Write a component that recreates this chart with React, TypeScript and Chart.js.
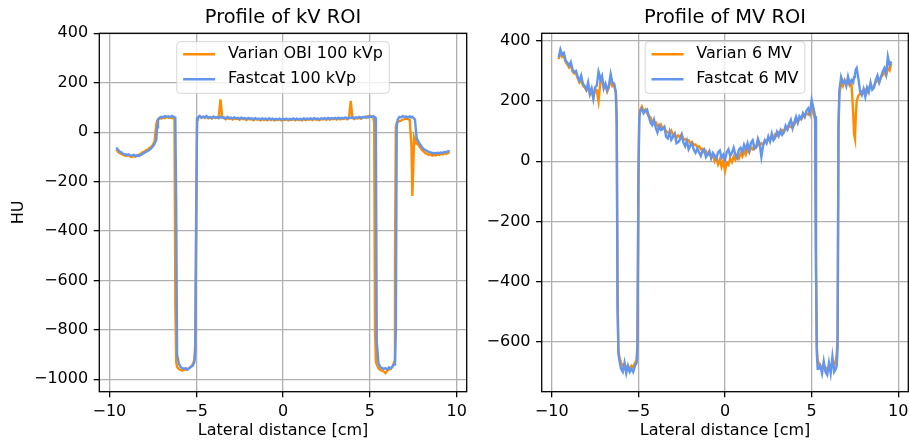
import React, { useEffect, useRef } from 'react';
import { Chart, registerables } from 'chart.js';
Chart.register(...registerables);

const FONT = '"DejaVu Sans", sans-serif';

// Lateral positions (cm), shared by both panels (denser near the edges)
const X_CM = [
  -9.6,-9.5,-9.4,-9.3,-9.2,-9.1,-9.0,-8.9,-8.8,-8.7,
  -8.6,-8.5,-8.4,-8.3,-8.2,-8.1,-8.0,-7.9,-7.8,-7.7,
  -7.6,-7.5,-7.4,-7.3,-7.25,-7.2,-7.1,-7.0,-6.9,-6.8,-6.7,
  -6.6,-6.5,-6.4,-6.3,-6.25,-6.2,-6.15,-6.1,-6.0,-5.9,-5.8,-5.7,
  -5.6,-5.5,-5.4,-5.3,-5.2,-5.1,-5.05,-5.0,-4.95,-4.9,-4.8,-4.7,
  -4.6,-4.5,-4.4,-4.3,-4.2,-4.1,-4.0,-3.9,-3.8,-3.7,
  -3.6,-3.5,-3.4,-3.3,-3.2,-3.1,-3.0,-2.9,-2.8,-2.7,
  -2.6,-2.5,-2.4,-2.3,-2.2,-2.1,-2.0,-1.9,-1.8,-1.7,
  -1.6,-1.5,-1.4,-1.3,-1.2,-1.1,-1.0,-0.9,-0.8,-0.7,
  -0.6,-0.5,-0.4,-0.3,-0.2,-0.1,0.0,0.1,0.2,0.3,
  0.4,0.5,0.6,0.7,0.8,0.9,1.0,1.1,1.2,1.3,
  1.4,1.5,1.6,1.7,1.8,1.9,2.0,2.1,2.2,2.3,
  2.4,2.5,2.6,2.7,2.8,2.9,3.0,3.1,3.2,3.3,
  3.4,3.5,3.6,3.7,3.8,3.9,4.0,4.1,4.2,4.3,
  4.4,4.5,4.6,4.7,4.8,4.9,5.0,5.1,5.2,5.25,5.3,5.35,
  5.4,5.5,5.6,5.7,5.8,5.9,6.0,6.1,6.2,6.3,
  6.4,6.45,6.5,6.55,6.6,6.7,6.8,6.9,7.0,7.1,7.2,7.3,
  7.4,7.45,7.5,7.55,7.6,7.7,7.8,7.9,8.0,8.1,8.2,8.3,
  8.4,8.5,8.6,8.7,8.8,8.9,9.0,9.1,9.2,9.3,
  9.4,9.5,9.6,
];

// kV ROI profiles (HU)
const KV_VARIAN = [
  -70,-80,-85,-88,-92,-95,-96,-94,-98,-100,
  -96,-99,-95,-92,-88,-82,-80,-74,-72,-64,
  -60,-52,-38,30,45,52,58,55,60,57,62,
  58,60,56,58,55,-700,-930,-950,-958,-962,-965,-960,
  -962,-958,-955,-950,-940,-920,-850,-300,50,58,64,60,
  62,57,63,56,60,55,61,57,59,62,
  133,60,56,52,58,54,57,51,56,53,
  55,50,56,52,54,49,55,51,53,48,
  54,50,52,48,53,49,52,48,53,49,
  52,48,51,49,52,48,51,49,52,48,
  51,49,53,48,52,49,51,48,53,49,
  52,50,53,49,54,50,52,49,53,51,
  54,50,55,51,54,52,55,51,56,52,
  55,53,57,52,56,127,58,53,57,55,
  59,54,60,62,58,64,66,62,62,40,-800,-930,
  -940,-955,-962,-965,-968,-975,-965,-960,-958,-950,
  -930,-500,20,38,42,45,47,50,54,55,53,50,
  -60,-258,-150,-20,-30,-45,-52,-62,-72,-78,-85,-88,
  -92,-90,-95,-92,-94,-90,-92,-88,-90,-86,
  -88,-84,-82,
];
const KV_FASTCAT = [
  -62,-72,-78,-82,-88,-90,-92,-90,-94,-95,
  -92,-96,-94,-97,-92,-88,-84,-80,-76,-72,
  -66,-58,-48,-32,20,50,58,62,60,65,62,
  64,60,66,62,60,58,-300,-900,-935,-950,-955,-958,
  -955,-960,-955,-948,-945,-930,-880,-400,55,60,66,58,
  63,60,65,58,62,57,63,59,61,56,
  62,58,60,55,61,57,59,55,60,56,
  58,54,59,55,57,53,58,54,56,52,
  57,53,55,51,56,53,55,51,56,52,
  55,51,54,52,55,51,54,52,55,51,
  54,52,56,51,55,52,54,51,56,52,
  55,53,56,52,57,53,55,52,56,54,
  57,53,58,54,57,55,58,54,59,55,
  58,56,60,55,59,57,61,56,60,58,
  62,57,61,59,63,60,64,61,65,62,60,30,
  -850,-935,-950,-955,-958,-955,-960,-952,-955,-948,
  -940,-930,-800,20,50,62,60,65,62,63,60,64,
  60,62,58,55,50,-25,-38,-50,-60,-68,-72,-76,
  -80,-82,-85,-84,-86,-83,-85,-82,-84,-80,
  -81,-78,-76,
];

// MV ROI profiles (HU)
const MV_VARIAN = [
  340,362,348,352,330,322,312,320,298,292,
  292,276,262,270,252,246,236,250,222,238,
  212,240,236,200,230,260,272,246,252,232,246,
  275,250,255,225,150,-450,-630,-650,-670,-680,-675,-685,
  -680,-690,-680,-685,-670,-660,-600,-100,150,170,182,165,
  172,160,150,146,132,128,130,118,112,122,
  108,112,100,96,92,102,88,90,78,86,
  80,90,72,74,68,70,60,64,54,56,
  48,50,40,42,30,34,22,28,14,22,
  0,12,-10,6,-18,2,-32,-5,-12,10,
  -2,16,5,20,10,26,16,34,22,40,
  30,46,40,52,46,58,52,60,56,68,
  64,76,70,84,80,90,86,96,92,104,
  100,110,106,118,114,126,122,134,130,142,
  140,150,148,160,156,168,180,160,140,-300,-620,-660,
  -670,-680,-690,-680,-685,-695,-680,-690,-670,-680,
  -660,-640,-580,100,220,262,250,270,258,265,252,260,
  160,90,76,150,200,218,225,232,228,238,230,245,
  250,242,252,262,272,262,280,286,298,285,
  310,302,325,
];
const MV_FASTCAT = [
  345,372,355,360,335,328,318,330,305,296,
  300,280,268,285,258,250,238,262,225,242,
  208,246,252,298,288,270,284,242,258,236,252,
  290,262,258,230,120,-500,-640,-660,-690,-700,-670,-705,
  -680,-700,-690,-700,-680,-670,-620,-50,140,165,175,160,
  168,172,150,128,120,138,112,96,118,104,
  108,115,82,76,98,72,82,92,60,64,
  72,88,62,50,68,40,52,60,38,28,
  42,30,18,35,40,14,22,34,10,28,
  20,8,30,36,12,22,5,30,40,18,
  28,45,22,12,38,45,30,55,40,60,
  35,62,70,42,48,75,58,15,52,70,
  60,82,66,92,70,78,98,84,102,88,
  96,118,106,125,138,110,130,148,128,150,
  142,160,148,168,176,158,204,178,150,-350,-640,-690,
  -690,-680,-705,-665,-700,-710,-670,-705,-650,-700,
  -690,-680,-620,120,235,280,262,268,250,282,258,270,
  262,280,290,305,310,275,232,220,240,215,245,230,
  262,238,245,270,285,262,280,298,310,290,
  348,320,332,
];

const X_TICKS = [-10, -5, 0, 5, 10];
const KV_Y_TICKS = [-1000, -800, -600, -400, -200, 0, 200, 400];
const MV_Y_TICKS = [-600, -400, -200, 0, 200, 400];

const ORANGE = '#ff8c00';
const BLUE = '#6495ed';

function fmt(v: number): string {
  return String(v).replace('-', '\u2212');
}

const framePlugin = {
  id: 'mplFrame',
  afterDatasetsDraw(chart: any) {
    const { ctx, chartArea: a } = chart;
    ctx.save();
    ctx.strokeStyle = '#000';
    ctx.lineWidth = 1.3;
    ctx.strokeRect(a.left, a.top, a.right - a.left, a.bottom - a.top);
    ctx.restore();
  },
};

const legendPlugin = {
  id: 'mplLegend',
  afterDraw(chart: any) {
    const { ctx, chartArea: a } = chart;
    const ds = chart.data.datasets;
    const fs = 16;
    ctx.save();
    ctx.font = `${fs}px ${FONT}`;
    const textW = Math.max(...ds.map((d: any) => ctx.measureText(d.label).width));
    const pad = 0.4 * fs, hl = 2 * fs, hp = 0.8 * fs;
    const w = pad + hl + hp + textW + pad;
    const h = 51.6;
    const left = (a.left + a.right) / 2 - w / 2;
    const top = a.top + 8.4;
    const r = 3.5;
    ctx.beginPath();
    ctx.moveTo(left + r, top);
    ctx.lineTo(left + w - r, top);
    ctx.arcTo(left + w, top, left + w, top + r, r);
    ctx.lineTo(left + w, top + h - r);
    ctx.arcTo(left + w, top + h, left + w - r, top + h, r);
    ctx.lineTo(left + r, top + h);
    ctx.arcTo(left, top + h, left, top + h - r, r);
    ctx.lineTo(left, top + r);
    ctx.arcTo(left, top, left + r, top, r);
    ctx.closePath();
    ctx.fillStyle = 'rgba(255,255,255,0.8)';
    ctx.fill();
    ctx.strokeStyle = 'rgba(204,204,204,0.8)';
    ctx.lineWidth = 1;
    ctx.stroke();
    ds.forEach((d: any, i: number) => {
      const cy = top + 12.6 + i * 25;
      ctx.beginPath();
      ctx.strokeStyle = d.borderColor;
      ctx.lineWidth = 2.4;
      ctx.moveTo(left + pad, cy);
      ctx.lineTo(left + pad + hl, cy);
      ctx.stroke();
      ctx.fillStyle = '#000';
      ctx.textBaseline = 'middle';
      ctx.textAlign = 'left';
      ctx.fillText(d.label, left + pad + hl + hp, cy);
    });
    ctx.restore();
  },
};

type Series = { label: string; values: number[]; color: string; order: number };

function ProfileChart(props: {
  title: string;
  series: Series[];
  yTicks: number[];
  yMin: number;
  yMax: number;
  yTitle?: string;
  width: number;
  yAxisWidth: number;
  padRight: number;
}) {
  const ref = useRef<HTMLCanvasElement>(null);
  useEffect(() => {
    const canvas = ref.current!;
    const chart = new Chart(canvas, {
      type: 'line',
      data: {
        datasets: props.series.map((s) => ({
          label: s.label,
          data: X_CM.map((x, j) => ({ x, y: s.values[j] })),
          borderColor: s.color,
          backgroundColor: s.color,
          borderWidth: 2.4,
          pointRadius: 0,
          tension: 0,
          fill: false,
          order: s.order,
        })),
      },
      options: {
        responsive: false,
        animation: false,
        devicePixelRatio: 1,
        layout: { padding: { left: 0, right: props.padRight, top: 0, bottom: 0 } },
        plugins: {
          legend: { display: false },
          tooltip: { enabled: false },
          title: {
            display: true,
            fullSize: false,
            text: props.title,
            color: '#000',
            font: { family: FONT, size: 19.4, weight: 'normal', lineHeight: 1.2 },
            padding: { top: 6.6, bottom: 3.4 },
          },
        },
        scales: {
          x: {
            type: 'linear',
            min: -10.58,
            max: 10.58,
            afterBuildTicks: (s: any) => {
              s.ticks = X_TICKS.map((v) => ({ value: v }));
            },
            afterFit: (s: any) => {
              s.height = 52.3;
              s.paddingLeft = 0;
              s.paddingRight = 0;
            },
            ticks: {
              callback: (v: any) => fmt(Number(v)),
              color: '#000',
              font: { family: FONT, size: 16 },
              padding: 5,
              maxRotation: 0,
              autoSkip: false,
            },
            grid: {
              color: '#b0b0b0',
              lineWidth: 1.3,
              drawTicks: true,
              tickLength: 5.6,
              tickColor: '#000',
              tickWidth: 1.3,
            },
            border: { display: false },
            title: {
              display: true,
              text: 'Lateral distance [cm]',
              color: '#000',
              font: { family: FONT, size: 16 },
              padding: { top: 0, bottom: 3.4 },
            },
          },
          y: {
            type: 'linear',
            min: props.yMin,
            max: props.yMax,
            afterBuildTicks: (s: any) => {
              s.ticks = props.yTicks.map((v) => ({ value: v }));
            },
            afterFit: (s: any) => {
              s.width = props.yAxisWidth;
              s.paddingTop = 0;
              s.paddingBottom = 0;
            },
            ticks: {
              callback: (v: any) => fmt(Number(v)),
              color: '#000',
              font: { family: FONT, size: 16 },
              padding: 5.6,
              autoSkip: false,
            },
            grid: {
              color: '#b0b0b0',
              lineWidth: 1.3,
              drawTicks: true,
              tickLength: 5.6,
              tickColor: '#000',
              tickWidth: 1.3,
            },
            border: { display: false },
            title: {
              display: !!props.yTitle,
              text: props.yTitle || '',
              color: '#000',
              font: { family: FONT, size: 16 },
              padding: { top: 9.5, bottom: 0 },
            },
          },
        },
      } as any,
      plugins: [framePlugin, legendPlugin],
    });
    return () => chart.destroy();
  }, []);
  return <canvas ref={ref} width={props.width} height={444} style={{ display: 'block' }} />;
}

export default function App() {
  return (
    <div style={{ position: 'fixed', left: 0, top: 0, width: 909, height: 444, background: '#fff' }}>
      <div style={{ position: 'absolute', left: 0, top: 0, width: 480, height: 444 }}>
        <ProfileChart
          title="Profile of kV ROI"
          series={[
            { label: 'Varian OBI 100 kVp', values: KV_VARIAN, color: ORANGE, order: 2 },
            { label: 'Fastcat 100 kVp', values: KV_FASTCAT, color: BLUE, order: 1 },
          ]}
          yTicks={KV_Y_TICKS}
          yMin={-1050}
          yMax={400}
          yTitle="HU"
          width={480}
          yAxisWidth={99.3}
          padRight={13.3}
        />
      </div>
      <div style={{ position: 'absolute', left: 480, top: 0, width: 429, height: 444 }}>
        <ProfileChart
          title="Profile of MV ROI"
          series={[
            { label: 'Varian 6 MV', values: MV_VARIAN, color: ORANGE, order: 2 },
            { label: 'Fastcat 6 MV', values: MV_FASTCAT, color: BLUE, order: 1 },
          ]}
          yTicks={MV_Y_TICKS}
          yMin={-766}
          yMax={425.6}
          width={429}
          yAxisWidth={61.7}
          padRight={0.7}
        />
      </div>
    </div>
  );
}
